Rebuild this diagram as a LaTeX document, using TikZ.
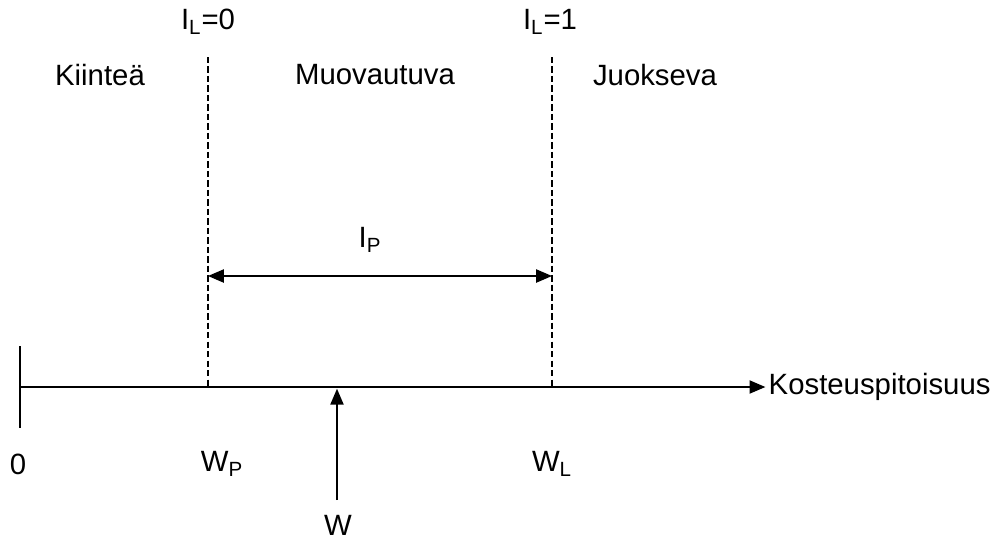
\documentclass[tikz,border=0pt]{standalone}
\usepackage{fontspec}
\setmainfont{Liberation Sans}
\usetikzlibrary{arrows.meta}

\begin{document}
\begin{tikzpicture}
			[x=0.02cm,y=-0.02cm,line width=0.8pt,every node/.style={font=\fontsize{16.7}{20}\selectfont,inner sep=0pt},
			edge/.style={-{Triangle[length=9pt,width=7.5pt]}}, twoway/.style={{Triangle[length=9pt,width=7.5pt]}-{Triangle[length=9pt,width=7.5pt]}},
			limit/.style={line width=1pt,dash pattern=on 3.6pt off 1.8pt}]
			\useasboundingbox (0,0) rectangle (994,539);
			\coordinate (o) at (20,387);
			\coordinate (otop) at (20,346);
			\coordinate (obot) at (20,428);
			\coordinate (wp) at (208,387);
			\coordinate (wptop) at (208,57);
			\coordinate (wl) at (552,387);
			\coordinate (wltop) at (552,57);
			\coordinate (ipl) at (208,276);
			\coordinate (ipr) at (552,276);
			\coordinate (wtip) at (337,387);
			\coordinate (wfoot) at (337,500);
			
			\node (il0) at (208,22)  {I\textsubscript{L}=0};
			\node (il1) at (550,22)  {I\textsubscript{L}=1};
			\node (kiintea) at (100,75)  {Kiinteä};
			\node (muov) at (375,75)  {Muovautuva};
			\node (juoks) at (655,75)  {Juokseva};
			\node (ip) at (370,240)  {I\textsubscript{P}};
			\node[anchor=west] (kost) at (768,387)  {Kosteuspitoisuus};
			\node (nolla) at (18,464)  {0};
			\node (wplab) at (222,464)  {W\textsubscript{P}};
			\node (wllab) at (552,464)  {W\textsubscript{L}};
			\node (w) at (338,525)  {W};
			
			\draw (otop) -- (obot);
			\draw[edge] (o) -- ([xshift=-1.5pt]kost.west);
			\draw[limit] (wptop) -- (wp);
			\draw[limit] (wltop) -- (wl);
			\draw[twoway] (ipl) -- (ipr);
			\draw[edge] (wfoot) -- ([yshift=-1pt]wtip);
			\end{tikzpicture}
\end{document}
